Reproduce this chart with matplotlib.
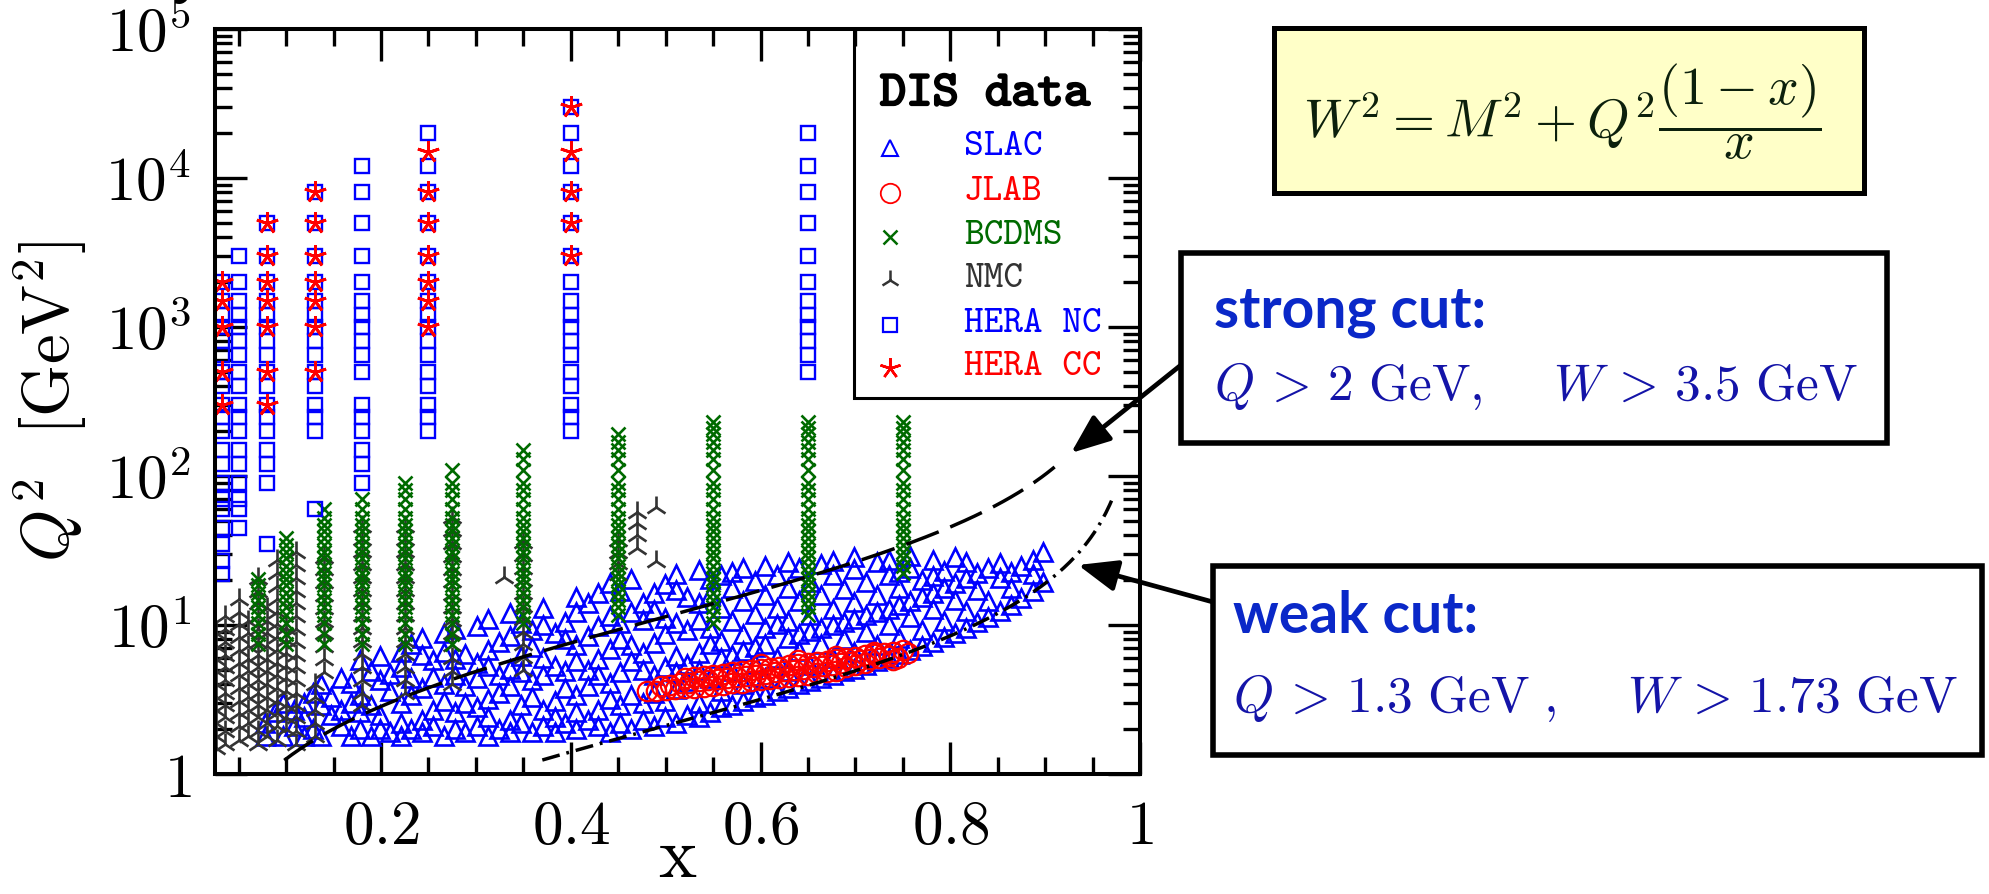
import numpy as np
import matplotlib
matplotlib.use('Agg')
import matplotlib.pyplot as plt
from matplotlib.patches import Rectangle, FancyArrowPatch
from matplotlib.ticker import LogLocator, NullFormatter
import matplotlib.patheffects as pe

plt.rcParams['mathtext.fontset'] = 'cm'
plt.rcParams['lines.scale_dashes'] = False

W_PX, H_PX, DPI = 1989, 894, 100

# ---------------- data ----------------
# HERA NC (x bin -> Q^2 list)
hera_nc_x = [0.032, 0.05, 0.08, 0.13, 0.18, 0.25, 0.40, 0.65]
hera_nc_q2 = [
    [22, 27, 35, 45, 60, 70, 90, 120, 150, 200, 250, 300, 400, 500, 650, 800, 1000, 1200, 1500, 2000],
    [45, 60, 70, 90, 120, 150, 200, 250, 300, 400, 500, 650, 800, 1000, 1200, 1500, 2000, 3000],
    [35, 90, 120, 150, 200, 250, 300, 400, 500, 650, 800, 1000, 1200, 1500, 2000, 3000, 5000],
    [60, 200, 250, 300, 400, 500, 650, 800, 1000, 1200, 1500, 2000, 3000, 5000, 8000],
    [90, 120, 150, 200, 250, 300, 500, 650, 800, 1000, 1200, 1500, 2000, 3000, 5000, 8000, 12000],
    [200, 250, 300, 400, 500, 650, 800, 1000, 1200, 1500, 2000, 3000, 5000, 8000, 12000, 20000],
    [200, 250, 300, 400, 500, 650, 800, 1000, 1200, 1500, 2000, 3000, 5000, 8000, 12000, 20000, 30000],
    [500, 650, 800, 1000, 1200, 1500, 2000, 3000, 5000, 8000, 12000, 20000],
]
# HERA CC
hera_cc_x = [0.032, 0.08, 0.13, 0.25, 0.40]
hera_cc_q2 = [
    [300, 500, 1000, 1500, 2000],
    [300, 500, 1000, 1500, 2000, 3000, 5000],
    [500, 1000, 1500, 2000, 3000, 5000, 8000],
    [1000, 1500, 2000, 3000, 5000, 8000, 15000],
    [3000, 5000, 8000, 15000, 30000],
]
# BCDMS
bcdms_x = [0.07, 0.10, 0.14, 0.18, 0.225, 0.275, 0.35, 0.45, 0.55, 0.65, 0.75]
bcdms_q2 = [
    [7.5, 8.75, 10.25, 11.75, 13.25, 14.75, 16.5, 18.5, 20.5],
    [7.5, 8.75, 10.25, 11.75, 13.25, 14.75, 16.5, 18.5, 20.5, 22.5, 25, 28, 31, 34.5, 38.5],
    [7.5, 8.75, 10.25, 11.75, 13.25, 14.75, 16.5, 18.5, 20.5, 22.5, 25, 28, 31, 34.5, 38.5, 42.5, 47, 52.5, 60],
    [7.5, 8.75, 10.25, 11.75, 13.25, 14.75, 16.5, 18.5, 20.5, 22.5, 25, 28, 31, 34.5, 38.5, 42.5, 47, 52.5, 60, 70],
    [7.5, 8.75, 10.25, 11.75, 13.25, 14.75, 16.5, 18.5, 20.5, 22.5, 25, 28, 31, 34.5, 38.5, 42.5, 47, 52.5, 60, 70, 80, 90],
    [7.5, 8.75, 10.25, 11.75, 13.25, 14.75, 16.5, 18.5, 20.5, 22.5, 25, 28, 31, 34.5, 38.5, 42.5, 47, 52.5, 60, 70, 80, 90, 110],
    [10.25, 11.75, 13.25, 14.75, 16.5, 18.5, 20.5, 22.5, 25, 28, 31, 34.5, 38.5, 42.5, 47, 52.5, 60, 70, 80, 90, 110, 130, 150],
    [11.75, 13.25, 14.75, 16.5, 18.5, 20.5, 22.5, 25, 28, 31, 34.5, 38.5, 42.5, 47, 52.5, 60, 70, 80, 90, 110, 130, 150, 170, 190],
    [10.25, 11.75, 13.25, 14.75, 16.5, 18.5, 20.5, 22.5, 25, 28, 31, 34.5, 38.5, 42.5, 47, 52.5, 60, 70, 80, 90, 110, 130, 150, 170, 190, 210, 230],
    [11.75, 13.25, 14.75, 16.5, 18.5, 20.5, 22.5, 25, 28, 31, 34.5, 38.5, 42.5, 47, 52.5, 60, 70, 80, 90, 110, 130, 150, 170, 190, 210, 230],
    [22.5, 25, 28, 31, 34.5, 38.5, 42.5, 47, 52.5, 60, 70, 80, 90, 110, 130, 150, 170, 190, 210, 230],
]
# NMC
nmc_x = [0.026, 0.036, 0.050, 0.060, 0.070, 0.080, 0.090, 0.100, 0.110, 0.130, 0.14, 0.18,
         0.225, 0.275, 0.33, 0.35, 0.45, 0.47, 0.49]
nmc_q2 = [
    [1.5, 1.8, 2.2, 2.7, 3.3, 4.0, 4.9, 5.9, 7.2, 8.8],
    [1.6, 1.95, 2.4, 2.9, 3.5, 4.3, 5.2, 6.3, 7.7, 9.4, 11.5],
    [1.7, 2.1, 2.55, 3.1, 3.8, 4.6, 5.6, 6.8, 8.3, 10.1, 12.3, 15.0],
    [1.8, 2.2, 2.7, 3.3, 4.0, 4.9, 5.9, 7.2, 8.8, 10.7],
    [1.6, 1.95, 2.4, 2.9, 3.5, 4.3, 5.2, 6.3, 7.7, 9.4, 11.5, 14.0, 17.0, 20.8],
    [1.8, 2.2, 2.7, 3.3, 4.0, 4.9, 5.9, 7.2, 8.8, 10.7, 13.1],
    [1.7, 2.1, 2.55, 3.1, 3.8, 4.6, 5.6, 6.8, 8.3, 10.1, 12.3, 15.0, 18.3, 22.3, 27.2],
    [2.0, 2.4, 2.9, 3.6, 4.4, 5.3, 6.5, 7.9, 9.6],
    [1.6, 1.95, 2.4, 2.9, 3.5, 4.3, 5.2, 6.3, 7.7, 9.4, 11.5, 14.0, 17.0, 20.8, 25.4, 31.0],
    [1.8, 2.2, 2.7, 3.3, 4.0],
    [4.8, 5.9, 7.2, 8.8, 10.7, 13.0, 15.9, 19.4, 23.6, 28.8],
    [2.9, 3.5, 4.3, 5.2, 6.4, 7.8, 9.5, 11.6, 14.1, 17.2, 21.0, 25.6, 31.2, 38.0, 46.0],
    [3.5, 4.3, 5.2, 6.4, 7.8, 9.5, 11.6, 14.1, 17.2, 21.0, 25.6, 31.2, 38.0, 46.0],
    [4.0, 4.9, 6.0, 7.3, 8.9, 10.8, 13.2, 16.1, 19.6, 23.9, 29.2, 35.6, 43.4, 53.0],
    [21.0],
    [5.0, 6.1, 7.4, 9.0, 11.0, 13.4, 16.3, 19.9, 24.3, 29.6, 36.1],
    [22.0, 26.0, 31.0, 37.0],
    [33.0, 40.0, 48.0, 57.0],
    [27.0, 62.0],
]
# SLAC
slac_x = [0.078, 0.088, 0.097, 0.108, 0.119, 0.128, 0.137, 0.147, 0.158, 0.168,
          0.178, 0.189, 0.199, 0.209, 0.221, 0.232, 0.243, 0.255, 0.266, 0.278,
          0.289, 0.301, 0.313, 0.324, 0.336, 0.348, 0.359, 0.371, 0.383, 0.394,
          0.406, 0.418, 0.429, 0.441, 0.452, 0.464, 0.476, 0.488, 0.499, 0.511,
          0.523, 0.535, 0.547, 0.558, 0.570, 0.582, 0.594, 0.605, 0.617, 0.629,
          0.641, 0.652, 0.664, 0.676, 0.688, 0.699, 0.711, 0.723, 0.735, 0.746,
          0.758, 0.770, 0.782, 0.793, 0.805, 0.817, 0.828, 0.840, 0.852, 0.864,
          0.875, 0.887, 0.898]
slac_q2 = [
    [1.8, 2.2], [2.6], [1.8, 3.0], [2.1, 2.7], [1.8, 2.4, 3.0],
    [2.0, 3.5], [1.8, 2.9, 4.0], [2.5, 3.3], [2.1, 2.7, 4.4],
    [1.8, 3.0, 4.1], [2.0, 2.6, 3.4, 5.8], [1.8, 2.9, 4.9],
    [2.0, 2.5, 4.3, 6.2], [1.9, 3.6, 4.7], [1.8, 2.2, 3.0, 5.2, 6.6],
    [2.0, 3.4, 4.4, 7.4], [1.9, 2.3, 3.8, 6.3, 8.2],
    [2.1, 2.7, 4.5, 5.8], [1.8, 3.1, 4.0, 6.6, 8.8],
    [2.0, 2.6, 4.6, 5.9, 9.4], [1.9, 3.0, 3.9, 6.4],
    [2.1, 2.8, 4.4, 5.6, 9.8], [1.8, 2.4, 3.2, 5.3, 6.8, 11.0],
    [2.0, 3.5, 4.6, 7.7], [1.9, 2.3, 3.9, 5.1, 8.4, 12.0],
    [2.2, 2.9, 4.8, 6.2, 10.3], [1.9, 3.3, 4.3, 7.1, 9.2],
    [2.1, 2.7, 4.6, 6.0, 10.0, 13.0], [1.9, 2.4, 3.1, 5.3, 8.8],
    [2.2, 3.8, 4.9, 8.1, 10.5], [2.0, 2.6, 3.4, 5.7, 7.3, 12.2, 15.5],
    [2.3, 3.9, 5.0, 8.4, 14.0], [2.1, 2.7, 4.6, 5.9, 9.8, 16.5],
    [1.9, 3.2, 4.1, 6.9, 11.5, 19.0], [2.2, 2.9, 4.8, 8.0, 10.3, 17.0],
    [2.0, 3.4, 5.7, 7.3, 12.2, 20.5], [2.3, 3.0, 5.0, 6.5, 10.8, 14.0],
    [2.1, 3.5, 4.6, 7.6, 12.7, 16.4], [2.4, 3.1, 5.2, 8.7, 11.2, 18.7],
    [2.2, 3.7, 4.8, 6.2, 10.3, 17.2, 22.0], [2.5, 4.2, 5.5, 9.2, 15.3],
    [2.4, 3.0, 5.0, 6.5, 10.8, 14.0, 23.5], [2.6, 4.4, 7.4, 9.5, 15.9, 20.5],
    [2.8, 3.6, 6.0, 7.8, 13.0, 21.7], [2.9, 4.9, 6.3, 10.6, 17.7, 22.8],
    [3.1, 4.0, 6.7, 8.7, 14.5, 24.0], [3.3, 5.5, 7.1, 11.9, 19.8],
    [3.4, 4.4, 7.4, 9.6, 16.0, 25.0], [3.6, 6.0, 10.1, 13.0, 21.7],
    [3.8, 4.9, 8.2, 10.6, 17.7, 26.5], [4.0, 6.7, 8.7, 14.5, 24.0],
    [4.2, 5.4, 9.1, 11.7, 19.5], [4.4, 7.4, 9.5, 15.9, 25.5],
    [4.6, 6.0, 10.0, 12.9, 21.5, 27.0], [4.9, 8.1, 10.5, 17.5],
    [5.1, 6.6, 11.0, 14.2, 23.6, 28.5], [5.4, 9.0, 11.6, 19.4],
    [5.7, 7.3, 12.2, 15.8, 26.3], [6.0, 10.0, 12.9, 21.5, 27.5],
    [6.4, 8.2, 13.7, 17.7, 22.8], [6.8, 11.3, 14.5, 24.2, 29.0],
    [7.2, 9.3, 15.5, 20.0], [7.7, 12.8, 16.5, 21.3, 27.5],
    [8.3, 10.7, 17.8, 22.9], [8.9, 14.8, 19.1, 28.5],
    [9.6, 12.4, 20.6, 26.5], [10.4, 17.3, 22.3], [11.3, 14.6, 24.2],
    [12.4, 20.6, 26.0], [13.7, 17.7, 22.8], [15.2, 25.0], [17.0, 21.9, 27.5],
    [19.5, 31.0],
]
# JLAB
jlab_x = [0.480, 0.490, 0.500, 0.510, 0.520, 0.530, 0.540, 0.550, 0.560, 0.570, 0.580, 0.590,
          0.600, 0.610, 0.620, 0.630, 0.640, 0.650, 0.660, 0.670, 0.680,
          0.495, 0.505, 0.515, 0.525, 0.535, 0.545, 0.555, 0.565, 0.575, 0.585, 0.595, 0.605,
          0.615, 0.625, 0.635, 0.645, 0.655, 0.665, 0.675, 0.685, 0.695, 0.705, 0.715, 0.725, 0.735,
          0.520, 0.530, 0.540, 0.550, 0.560, 0.570, 0.580, 0.590, 0.600, 0.610, 0.620, 0.630,
          0.640, 0.650, 0.660, 0.670, 0.680, 0.690, 0.700, 0.710, 0.720, 0.730, 0.740, 0.750, 0.755,
          0.600, 0.640, 0.680, 0.720, 0.690, 0.700, 0.710, 0.740, 0.745]
jlab_q2 = [3.60, 3.62, 3.65, 3.70, 3.75, 3.80, 3.86, 3.92, 3.98, 4.05, 4.10, 4.18,
           4.25, 4.32, 4.40, 4.48, 4.56, 4.65, 4.75, 4.85, 4.95,
           3.90, 3.95, 4.05, 4.10, 4.18, 4.25, 4.32, 4.40, 4.48, 4.55, 4.63, 4.72,
           4.80, 4.90, 5.00, 5.10, 5.20, 5.30, 5.40, 5.52, 5.65, 5.78, 5.90, 6.05, 6.20,
           4.40, 4.48, 4.55, 4.63, 4.70, 4.80, 4.88, 4.97, 5.05, 5.15, 5.25, 5.35,
           5.45, 5.55, 5.65, 5.75, 5.88, 6.00, 6.12, 6.25, 6.38, 6.50, 6.62, 6.75, 6.50,
           5.50, 5.80, 6.20, 6.60, 5.20, 5.40, 5.60, 5.80, 6.00]

# kinematic cuts
M2 = 0.88
W2_strong = 3.5 ** 2
W2_weak = 1.73 ** 2
strong_xrange = (0.098, 0.91)
weak_xrange = (0.37, 0.97)

legend_labels = ['SLAC', 'JLAB', 'BCDMS', 'NMC', 'HERA NC', 'HERA CC']

BLUE = '#0000ff'
RED = '#ff0000'
GREEN = '#006a00'
GRAY = '#333333'


def flatten(xs, qs):
    xo, qo = [], []
    for x, ql in zip(xs, qs):
        xo += [x] * len(ql)
        qo += list(ql)
    return xo, qo


fig = plt.figure(figsize=(W_PX / DPI, H_PX / DPI), dpi=DPI)
L, R, T, B = 215, 1140, 29, 774
ax = fig.add_axes([L / W_PX, 1 - B / H_PX, (R - L) / W_PX, (B - T) / H_PX])
ax.set_yscale('log')
ax.set_xlim(0.025, 1.0)
ax.set_ylim(1, 1e5)

# data
x, q = flatten(slac_x, slac_q2)
ax.plot(x, q, ls='none', marker='^', ms=12.5, mfc='none', mec=BLUE, mew=1.9, zorder=2)
x, q = flatten(nmc_x, nmc_q2)
ax.plot(x, q, ls='none', marker='2', ms=16, mec=GRAY, mew=1.9, zorder=2)
x, q = flatten(bcdms_x, bcdms_q2)
ax.plot(x, q, ls='none', marker='x', ms=9.5, mec=GREEN, mew=1.9, zorder=2)
ax.plot(jlab_x, jlab_q2, ls='none', marker='o', ms=14, mfc='none', mec=RED, mew=1.6, zorder=2)
x, q = flatten(hera_nc_x, hera_nc_q2)
ax.plot(x, q, ls='none', marker='s', ms=10, mfc='none', mec=BLUE, mew=1.7, zorder=2)
x, q = flatten(hera_cc_x, hera_cc_q2)
ax.plot(x, q, ls='none', marker=(5, 2, 0), ms=16, mec=RED, mew=2.0, zorder=2)

# cut curves
xs = np.linspace(strong_xrange[0], strong_xrange[1], 300)
ax.plot(xs, (W2_strong - M2) * xs / (1 - xs), color='black', lw=2.5,
        dashes=(25, 9), zorder=3)
xw = np.linspace(weak_xrange[0], weak_xrange[1], 300)
ax.plot(xw, (W2_weak - M2) * xw / (1 - xw), color='black', lw=2.5,
        dashes=(13, 5, 2, 5), zorder=3)

# ticks
ax.set_xticks([0.2, 0.4, 0.6, 0.8, 1.0])
ax.set_xticklabels([r'$0.2$', r'$0.4$', r'$0.6$', r'$0.8$', r'$1$'])
ax.set_xticks([0.05, 0.1, 0.15, 0.25, 0.3, 0.35, 0.45, 0.5, 0.55, 0.65, 0.7, 0.75,
               0.85, 0.9, 0.95], minor=True)
ax.set_yticks([1, 10, 100, 1e3, 1e4, 1e5])
ax.set_yticklabels([r'$1$', r'$10^{1}$', r'$10^{2}$', r'$10^{3}$', r'$10^{4}$', r'$10^{5}$'])
ax.yaxis.set_minor_locator(LogLocator(base=10, subs=range(2, 10)))
ax.yaxis.set_minor_formatter(NullFormatter())
ax.tick_params(which='both', direction='in', top=True, right=True, width=2.4,
               labelsize=44, pad=17)
ax.tick_params(which='major', length=23)
ax.tick_params(which='minor', length=12)
for s in ax.spines.values():
    s.set_linewidth(2.9)

ax.set_xlabel(r'$\mathrm{x}$', fontsize=52)
ax.xaxis.set_label_coords(0.5, -0.138)
ax.xaxis.label.set_va('baseline')
ax.set_ylabel(r'$Q^2\ \ [\mathrm{GeV}^2]$', fontsize=48)
ax.yaxis.set_label_coords(-0.178, 0.5)
ax.yaxis.label.set_va('center')

# legend box
lx0 = (854 - L) / (R - L)
ly0 = (B - 398) / (B - T)
ax.add_patch(Rectangle((lx0, ly0), 1 - lx0, 1 - ly0, transform=ax.transAxes,
                       facecolor='white', edgecolor='black', lw=2.2, zorder=1.5))
ax.text((880 - L) / (R - L), (B - 95) / (B - T), 'DIS data', transform=ax.transAxes,
        family='cmtt10', fontsize=36, va='center', ha='left', color='black', zorder=4,
        path_effects=[pe.withStroke(linewidth=1.6, foreground='black')])
leg_colors = [BLUE, RED, GREEN, GRAY, BLUE, RED]
leg_style = [dict(marker='^', ms=12, mfc='none', mec=BLUE, mew=1.5),
             dict(marker='o', ms=14, mfc='none', mec=RED, mew=1.3),
             dict(marker='x', ms=10, mec=GREEN, mew=1.8),
             dict(marker='2', ms=14, mec=GRAY, mew=1.8),
             dict(marker='s', ms=10, mfc='none', mec=BLUE, mew=1.6),
             dict(marker=(5, 2, 0), ms=15, mec=RED, mew=1.8)]
leg_y_px = [148, 193, 237, 280, 325, 368]
for lab, col, st, ypx in zip(legend_labels, leg_colors, leg_style, leg_y_px):
    yy = (B - ypx) / (B - T)
    ax.plot([(890 - L) / (R - L)], [yy], ls='none', transform=ax.transAxes,
            clip_on=False, zorder=4, **st)
    ax.text((964 - L) / (R - L), yy, lab, transform=ax.transAxes, family='cmtt10',
            fontsize=27, va='center', ha='left', color=col, zorder=4)


# right-hand annotation boxes (pixel positions, top-left origin)
def fx(p):
    return p / W_PX


def fy(p):
    return 1 - p / H_PX


def box(x0, y0, x1, y1, fc, lw):
    fig.add_artist(Rectangle((fx(x0), fy(y1)), fx(x1) - fx(x0), fy(y0) - fy(y1),
                             transform=fig.transFigure, facecolor=fc,
                             edgecolor='black', lw=lw, zorder=6))


box(1274, 28, 1864, 193, '#ffffc8', 3.6)
fig.text(fx(1562), fy(112), r'$W^2 = M^2 + Q^2\dfrac{(1-x)}{x}$', ha='center',
         va='center', fontsize=39, color='#0c200c', zorder=7)

box(1181, 253, 1887, 443, 'white', 4.0)
fig.text(fx(1214), fy(328), 'strong cut:', ha='left', va='baseline', fontsize=41,
         family='Lato', weight='bold', color='#0a28c8', zorder=7)
fig.text(fx(1214), fy(400),
         r'$Q\,>\,2\ \mathrm{GeV},\quad\ W\,>\,3.5\ \mathrm{GeV}$',
         ha='left', va='baseline', fontsize=37, color='#1414a8', zorder=7)

box(1213, 566, 1982, 755, 'white', 4.0)
fig.text(fx(1233), fy(633), 'weak cut:', ha='left', va='baseline', fontsize=41,
         family='Lato', weight='bold', color='#0a28c8', zorder=7)
fig.text(fx(1233), fy(712),
         r'$Q\,>\,1.3\ \mathrm{GeV}\ ,\quad\ W\,>\,1.73\ \mathrm{GeV}$',
         ha='left', va='baseline', fontsize=37, color='#1414a8', zorder=7)

for (xa, ya), (xb, yb) in [((1181, 365), (1071, 453)), ((1213, 602), (1078, 565))]:
    fig.add_artist(FancyArrowPatch((fx(xa), fy(ya)), (fx(xb), fy(yb)),
                                   transform=fig.transFigure,
                                   arrowstyle='-|>,head_length=0.8,head_width=0.32',
                                   mutation_scale=30, lw=3.4, color='black',
                                   shrinkA=0, shrinkB=0, zorder=5))

fig.savefig('out.png', dpi=DPI)
